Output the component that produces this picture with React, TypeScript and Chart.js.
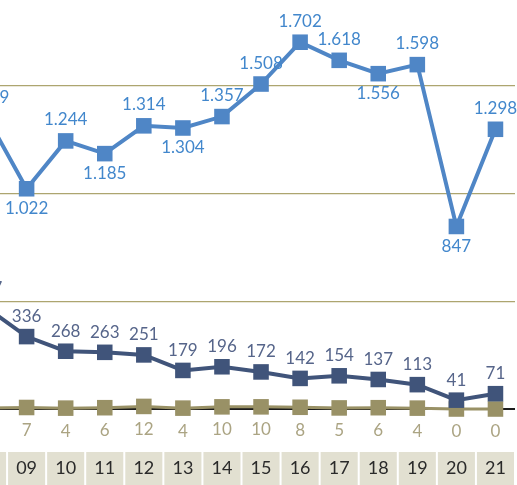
import { useEffect, useRef } from 'react';
import { Chart, registerables } from 'chart.js';

Chart.register(...registerables);

const categories = ['08', '09', '10', '11', '12', '13', '14', '15', '16', '17', '18', '19', '20', '21'];
const blueValues = [1349, 1022, 1244, 1185, 1314, 1304, 1357, 1508, 1702, 1618, 1556, 1598, 847, 1298];
const blueLabelSide = ['top', 'bottom', 'top', 'bottom', 'top', 'bottom', 'top', 'top', 'top', 'top', 'bottom', 'top', 'bottom', 'top'];
const navyValues = [467, 336, 268, 263, 251, 179, 196, 172, 142, 154, 137, 113, 41, 71];
const beigeValues = [5, 7, 4, 6, 12, 4, 10, 10, 8, 5, 6, 4, 0, 0];
const yTicksStep = 500;

const BLUE = '#4f86c6';
const NAVY = '#40547a';
const BEIGE = '#999166';
const FONT = 'Lato, "Open Sans", sans-serif';

function fmt(v: number): string {
  const s = String(Math.round(v));
  return s.length > 3 ? s.slice(0, s.length - 3) + '.' + s.slice(s.length - 3) : s;
}

const labelPlugin = {
  id: 'valueLabels',
  afterDatasetsDraw(chart: any) {
    const ctx = chart.ctx;
    ctx.save();
    ctx.font = `17px ${FONT}`;
    ctx.textAlign = 'center';
    ctx.textBaseline = 'middle';
    chart.data.datasets.forEach((ds: any, di: number) => {
      const meta = chart.getDatasetMeta(di);
      meta.data.forEach((pt: any, i: number) => {
        const v = ds.data[i];
        let dy = 0;
        if (di === 0) dy = blueLabelSide[i] === 'top' ? -21 : 20;
        else if (di === 1) dy = -20;
        else dy = 23;
        ctx.fillStyle = ds.labelColor;
        ctx.fillText(fmt(v), pt.x, pt.y + dy);
      });
    });
    ctx.restore();
  },
  afterDraw(chart: any) {
    const ctx = chart.ctx;
    const xs = chart.scales.x;
    const area = chart.chartArea;
    const step = (xs.right - xs.left) / categories.length;
    ctx.save();
    ctx.font = `18px ${FONT}`;
    ctx.textAlign = 'center';
    ctx.textBaseline = 'middle';
    categories.forEach((c, i) => {
      const cx = xs.getPixelForValue(i);
      const top = area.bottom + 43;
      ctx.fillStyle = '#e2e0d1';
      ctx.fillRect(cx - step / 2 + 1, top, step - 2, 60);
      ctx.fillStyle = '#2a2a2a';
      ctx.fillText(c, cx, top + 16.5);
    });
    ctx.restore();
  },
};

export default function App() {
  const ref = useRef<HTMLCanvasElement>(null);
  useEffect(() => {
    document.body.style.margin = '0';
    const chart = new Chart(ref.current!, {
      type: 'line',
      data: {
        labels: categories,
        datasets: [
          {
            data: blueValues,
            borderColor: BLUE,
            backgroundColor: BLUE,
            borderWidth: 4,
            pointStyle: 'rect',
            pointRadius: 11,
            pointBorderWidth: 0,
            clip: false,
            labelColor: '#4287cc',
          } as any,
          {
            data: navyValues,
            borderColor: NAVY,
            backgroundColor: NAVY,
            borderWidth: 4,
            pointStyle: 'rect',
            pointRadius: 11,
            pointBorderWidth: 0,
            clip: false,
            labelColor: '#56658a',
          } as any,
          {
            data: beigeValues,
            borderColor: BEIGE,
            backgroundColor: BEIGE,
            borderWidth: 3,
            pointStyle: 'rect',
            pointRadius: 11,
            pointBorderWidth: 0,
            clip: false,
            labelColor: '#aba483',
          } as any,
        ],
      },
      options: {
        responsive: false,
        animation: false,
        layout: { autoPadding: false, padding: { left: 0, right: 2, top: 0, bottom: 76 } },
        plugins: { legend: { display: false }, tooltip: { enabled: false } },
        scales: {
          x: { type: 'category', display: false, offset: true },
          y: {
            min: 0,
            max: 2000,
            ticks: { display: false, stepSize: yTicksStep },
            border: { display: false },
            grid: {
              drawTicks: false,
              color: (c: any) => (c.tick && c.tick.value === 0 ? '#1c1c1c' : '#ada56f'),
              lineWidth: (c: any) => (c.tick && c.tick.value === 0 ? 2 : 1.2),
            },
            afterFit: (s: any) => {
              s.width = 0;
            },
          },
        },
      },
      plugins: [labelPlugin],
    });
    return () => chart.destroy();
  }, []);
  return (
    <div style={{ position: 'fixed', left: 0, top: 0, width: 517, height: 485, overflow: 'hidden', background: '#fff' }}>
      <div style={{ position: 'absolute', left: -32, top: -22, width: 549, height: 507 }}>
        <canvas ref={ref} width={549} height={507} style={{ width: 549, height: 507, display: 'block' }} />
      </div>
    </div>
  );
}
